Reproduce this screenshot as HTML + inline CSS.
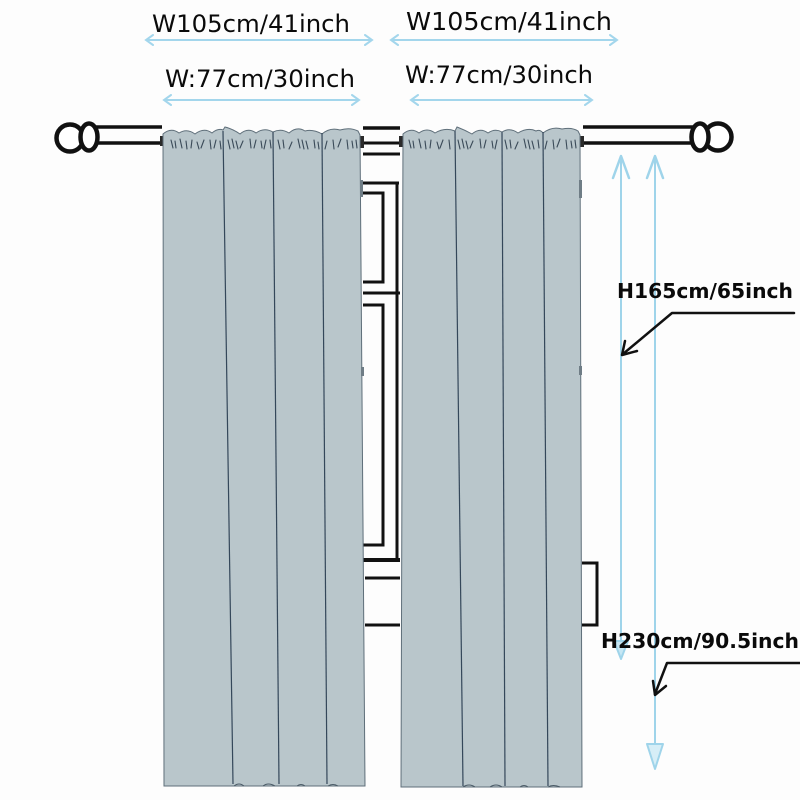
<!DOCTYPE html>
<html>
<head>
<meta charset="utf-8">
<style>
html,body{margin:0;padding:0;background:#fff;}
svg{display:block;}
text{font-family:"DejaVu Sans","Liberation Sans",sans-serif;fill:#0a0a0a;}
</style>
</head>
<body>
<svg width="800" height="800" viewBox="0 0 800 800" xmlns="http://www.w3.org/2000/svg">
<rect width="800" height="800" fill="#fdfdfd"/>

<!-- top width labels -->
<text x="152" y="32" font-size="24" textLength="198" lengthAdjust="spacingAndGlyphs">W105cm/41inch</text>
<text x="406" y="30" font-size="25" textLength="206" lengthAdjust="spacingAndGlyphs">W105cm/41inch</text>
<text x="165" y="87" font-size="24" textLength="190" lengthAdjust="spacingAndGlyphs">W:77cm/30inch</text>
<text x="405" y="83" font-size="24" textLength="188" lengthAdjust="spacingAndGlyphs">W:77cm/30inch</text>

<!-- blue horizontal arrows -->
<g stroke="#a3d6ec" stroke-width="2" fill="none" stroke-linecap="round">
  <path d="M146,40 L372,40 M153,35 L146,40 L153,45 M365,35 L372,40 L365,45"/>
  <path d="M391,40 L617,40 M398,35 L391,40 L398,45 M610,35 L617,40 L610,45"/>
  <path d="M164,100 L359,100 M171,95 L164,100 L171,105 M352,95 L359,100 L352,105"/>
  <path d="M411,100 L592,100 M418,95 L411,100 L418,105 M585,95 L592,100 L585,105"/>
</g>

<!-- window frame between curtains -->
<g stroke="#111" fill="none" stroke-linecap="butt">
  <line x1="363" y1="128" x2="400" y2="128" stroke-width="3.5"/>
  <line x1="363" y1="143" x2="400" y2="143" stroke-width="3"/>
  <line x1="363" y1="154" x2="400" y2="154" stroke-width="3"/>
  <line x1="363" y1="183" x2="399" y2="183" stroke-width="3"/>
  <line x1="397" y1="183" x2="397" y2="560" stroke-width="3"/>
  <line x1="363" y1="293" x2="400" y2="293" stroke-width="3"/>
  <line x1="363" y1="560" x2="400" y2="560" stroke-width="4"/>
  <path d="M363,193 L383,193 L383,282 L363,282" stroke-width="3"/>
  <path d="M363,305 L383,305 L383,545 L363,545" stroke-width="3"/>
  <line x1="365" y1="578" x2="400" y2="578" stroke-width="3"/>
  <line x1="365" y1="625" x2="400" y2="625" stroke-width="3"/>
  <path d="M582,563 L597,563 L597,625 L582,625" stroke-width="3"/>
</g>

<!-- rods -->
<g stroke="#111" stroke-width="3.5" fill="#fff">
  <line x1="96" y1="127" x2="162" y2="127"/>
  <line x1="96" y1="143" x2="162" y2="143"/>
  <line x1="583" y1="127" x2="694" y2="127"/>
  <line x1="583" y1="143" x2="694" y2="143"/>
</g>
<!-- finials -->
<g stroke="#111" stroke-width="4.5" fill="#fff">
  <circle cx="70" cy="138" r="13.5"/>
  <ellipse cx="89" cy="137" rx="8.5" ry="13.5"/>
  <circle cx="718" cy="137" r="13.5"/>
  <ellipse cx="700" cy="137" rx="8.5" ry="13.5"/>
</g>

<!-- rod stubs -->
<g fill="#2a2a2a">
  <rect x="160" y="136" width="4" height="10"/>
  <rect x="360" y="136" width="4" height="12"/>
  <rect x="399" y="136" width="4" height="11"/>
  <rect x="579" y="136" width="5" height="11"/>
</g>

<!-- left curtain -->
<path d="M163,134 Q171,127 179,133 Q187,128 195,134 Q204,127 212,133 Q218,128 223,130 L225,127 Q233,129 240,134 Q248,127 256,133 Q264,127 273,132 Q281,128 289,133 Q297,126 305,131 Q313,129 322,134 Q330,127 340,130 Q350,127 358,131 L360,135 L365,786 L164,786 Z" fill="#b9c6cb" stroke="#5f6f7a" stroke-width="1"/>
<!-- right curtain -->
<path d="M403,134 Q411,127 419,133 Q427,127 435,133 Q445,127 455,131 L457,127 Q465,130 472,134 Q480,127 488,133 Q495,128 502,132 Q510,127 518,133 Q528,127 536,131 Q540,129 543,133 Q552,126 562,129 Q572,127 578,131 L580,135 L582,787 L401,787 Z" fill="#b9c6cb" stroke="#5f6f7a" stroke-width="1"/>

<!-- dividers -->
<g stroke="#34475a" stroke-width="1.2">
  <line x1="223" y1="131" x2="233" y2="784"/>
  <line x1="273" y1="132" x2="279" y2="784"/>
  <line x1="322" y1="133" x2="327" y2="784"/>
  <line x1="455" y1="131" x2="463" y2="786"/>
  <line x1="502" y1="132" x2="505" y2="786"/>
  <line x1="543" y1="132" x2="548" y2="786"/>
</g>

<!-- header scribbles -->
<g stroke="#3a4a58" stroke-width="1.1" fill="none" stroke-linecap="round">
  <path d="M171,140 l2,8 M175,141 l1,7 M180,139 l2,9 M186,141 l1,8 M192,140 l-1,8 M197,142 l2,7 M204,140 l-3,8 M210,140 l1,9 M216,140 l-2,8 M220,141 l1,8"/>
  <path d="M228,140 l2,9 M232,139 l2,9 M236,141 l2,8 M243,141 l-3,7 M250,139 l1,9 M256,140 l-2,8 M261,141 l1,7 M266,140 l-2,9 M270,140 l1,8"/>
  <path d="M278,140 l2,9 M283,140 l1,8 M292,142 l-3,7 M298,139 l2,9 M302,140 l2,9 M306,141 l2,8 M314,140 l1,8 M318,142 l1,7"/>
  <path d="M327,141 l-2,8 M333,140 l1,9 M341,139 l-3,8 M347,140 l1,9 M352,141 l1,7 M356,140 l1,8"/>
  <path d="M409,140 l2,8 M413,141 l1,7 M419,139 l2,9 M425,141 l1,8 M431,140 l-1,8 M437,142 l2,7 M443,140 l-3,8 M449,140 l1,9"/>
  <path d="M458,140 l2,9 M462,139 l2,9 M466,141 l2,8 M473,141 l-3,7 M480,139 l1,9 M486,140 l-2,8 M492,141 l1,7 M497,140 l-2,9"/>
  <path d="M505,140 l2,9 M510,140 l1,8 M518,142 l-3,7 M524,139 l2,9 M528,140 l2,9 M532,141 l2,8 M538,140 l1,8"/>
  <path d="M547,141 l-2,8 M553,140 l1,9 M560,139 l-3,8 M566,140 l1,9 M571,141 l1,7 M575,140 l1,8"/>
</g>

<!-- hem marks -->
<g stroke="#4a5a66" stroke-width="1" fill="none">
  <path d="M234,786 q5,-4 10,0 M263,786 q5,-4 12,0 M297,786 q4,-3 8,0 M328,786 q5,-3 10,0"/>
  <path d="M463,787 q6,-4 12,0 M490,787 q6,-4 12,0 M520,787 q4,-3 8,0 M548,787 q5,-3 12,0"/>
</g>

<!-- gray frame bits at curtain edges -->
<g fill="#6f7d86">
  <rect x="360" y="180" width="3" height="17"/>
  <rect x="361" y="367" width="3" height="9"/>
  <rect x="579" y="180" width="3" height="18"/>
  <rect x="579" y="366" width="3" height="9"/>
</g>

<!-- vertical blue measure arrows -->
<g stroke="#9fd4ea" stroke-width="2" fill="none" stroke-linecap="round" stroke-linejoin="round">
  <line x1="621" y1="156" x2="621" y2="644"/>
  <line x1="655" y1="156" x2="655" y2="746"/>
  <path d="M613,178 L621,156 L629,178" stroke-width="2.5"/>
  <path d="M647,178 L655,156 L663,178" stroke-width="2.5"/>
  <path d="M614,641 L628,641 L621,659 Z" fill="#c6e7f4"/>
  <path d="M647,744 L663,744 L655,769 Z" fill="#d6eef7"/>
</g>

<!-- bold height labels -->
<text x="617" y="298" font-size="20" font-weight="bold" textLength="176" lengthAdjust="spacingAndGlyphs">H165cm/65inch</text>
<text x="601" y="648" font-size="20" font-weight="bold" textLength="198" lengthAdjust="spacingAndGlyphs">H230cm/90.5inch</text>

<!-- leader arrows -->
<g stroke="#111" stroke-width="2.5" fill="none" stroke-linecap="round" stroke-linejoin="round">
  <path d="M794,313 L672,313 L623,354"/>
  <path d="M625,341 L622,355 L637,351"/>
  <path d="M800,663 L667,663 L655,694"/>
  <path d="M653,681 L655,695 L666,686"/>
</g>
</svg>
</body>
</html>
